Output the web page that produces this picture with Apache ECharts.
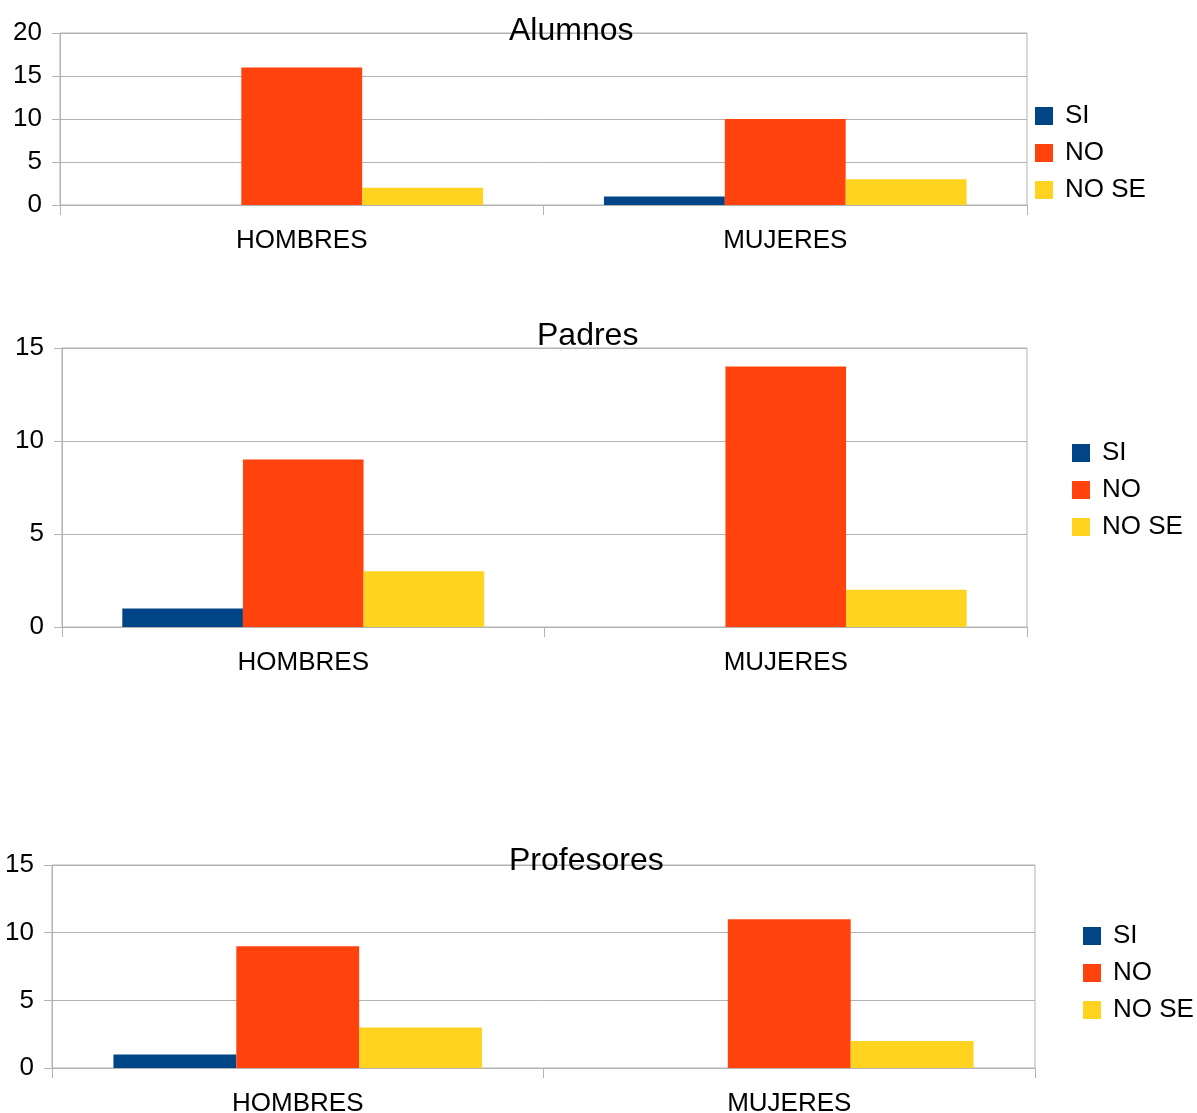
<!DOCTYPE html>
<html>
<head>
<meta charset="utf-8">
<script src="https://cdn.jsdelivr.net/npm/echarts@6/dist/echarts.min.js"></script>
<style>
html,body{margin:0;padding:0;background:#fff;}
#main{width:1197px;height:1113px;}
</style>
</head>
<body>
<div id="main"></div>
<script>
var categories = ['HOMBRES', 'MUJERES'];
var seriesNames = ['SI', 'NO', 'NO SE'];
var colors = ['#004586', '#ff420e', '#ffd320'];

var chartTitles = ['Alumnos', 'Padres', 'Profesores'];
var yMax = [20, 15, 15];
var yInterval = [5, 5, 5];

var alumnosSI = [0, 1];
var alumnosNO = [16, 10];
var alumnosNOSE = [2, 3];

var padresSI = [1, 0];
var padresNO = [9, 14];
var padresNOSE = [3, 2];

var profesoresSI = [1, 0];
var profesoresNO = [9, 11];
var profesoresNOSE = [3, 2];

var chartData = [
  [alumnosSI, alumnosNO, alumnosNOSE],
  [padresSI, padresNO, padresNOSE],
  [profesoresSI, profesoresNO, profesoresNOSE]
];

var FONT = '"Liberation Sans", Arial, sans-serif';
var grids = [
  {left: 60, top: 33, width: 967, height: 172},
  {left: 62, top: 348, width: 965, height: 279},
  {left: 52, top: 865, width: 983, height: 203}
];
var titlePos = [{left: 509, top: 15}, {left: 537, top: 320}, {left: 509, top: 845}];
var legendPos = [{left: 1035, top: 103}, {left: 1072, top: 440}, {left: 1083, top: 923}];

var option = {
  animation: false,
  backgroundColor: '#ffffff',
  title: [], legend: [], grid: [], xAxis: [], yAxis: [], series: []
};

for (var i = 0; i < 3; i++) {
  option.title.push({
    text: chartTitles[i], left: titlePos[i].left, top: titlePos[i].top, padding: 0,
    textStyle: {fontFamily: FONT, fontSize: 32, fontWeight: 'normal', color: '#000'}
  });
  option.grid.push({
    left: grids[i].left, top: grids[i].top, width: grids[i].width, height: grids[i].height,
    show: true, borderColor: '#b3b3b3', borderWidth: 1, backgroundColor: 'transparent',
    containLabel: false, outerBoundsMode: 'none'
  });
  option.xAxis.push({
    type: 'category', gridIndex: i, data: categories,
    axisLine: {show: true, lineStyle: {color: '#b3b3b3', width: 1}},
    axisTick: {show: true, length: 10, alignWithLabel: false, lineStyle: {color: '#b3b3b3'}},
    axisLabel: {fontFamily: FONT, fontSize: 26, color: '#000', margin: 23},
    splitLine: {show: false}
  });
  option.yAxis.push({
    type: 'value', gridIndex: i, min: 0, max: yMax[i], interval: yInterval[i],
    axisLine: {show: true, lineStyle: {color: '#b3b3b3', width: 1}},
    axisTick: {show: true, length: 8, lineStyle: {color: '#b3b3b3'}},
    axisLabel: {fontFamily: FONT, fontSize: 26, color: '#000', margin: 18},
    splitLine: {show: true, lineStyle: {color: '#b3b3b3', width: 1}}
  });
  var names = [];
  for (var s = 0; s < 3; s++) {
    names.push(seriesNames[s]);
    option.series.push({
      type: 'bar', name: seriesNames[s], xAxisIndex: i, yAxisIndex: i,
      data: chartData[i][s], itemStyle: {color: colors[s]},
      barGap: '0%', barCategoryGap: '25%'
    });
  }
  option.legend.push({
    orient: 'vertical', left: legendPos[i].left, top: legendPos[i].top, padding: 0,
    itemWidth: 18, itemHeight: 18, itemGap: 11, icon: 'rect',
    data: names,
    textStyle: {fontFamily: FONT, fontSize: 26, color: '#000', lineHeight: 26, padding: [0, 0, 0, 7]},
    selectedMode: false
  });
}

var chart = echarts.init(document.getElementById('main'));
chart.setOption(option);
</script>
</body>
</html>
